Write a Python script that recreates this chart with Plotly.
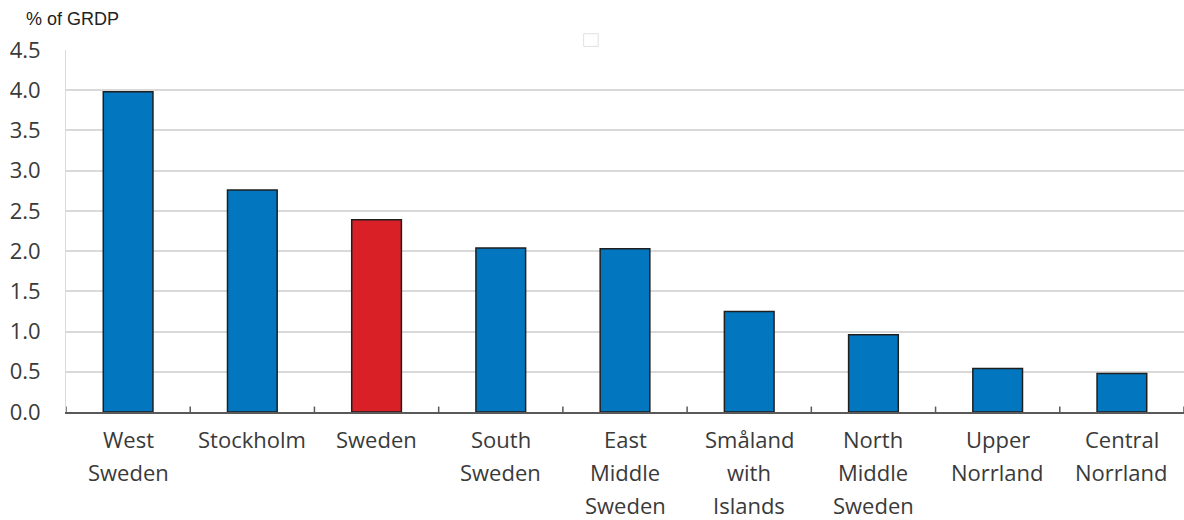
import plotly.graph_objects as go

# Regional values, % of GRDP
regions = ["West<br>Sweden", "Stockholm", "Sweden", "South<br>Sweden", "East<br>Middle<br>Sweden",
           "Småland<br>with<br>Islands", "North<br>Middle<br>Sweden", "Upper<br>Norrland", "Central<br>Norrland"]
values = [3.98, 2.76, 2.39, 2.04, 2.03, 1.25, 0.96, 0.54, 0.48]
colors = ["#0277BF", "#0277BF", "#D92027", "#0277BF", "#0277BF", "#0277BF", "#0277BF", "#0277BF", "#0277BF"]
y_ticks = [0.0, 0.5, 1.0, 1.5, 2.0, 2.5, 3.0, 3.5, 4.0, 4.5]

FONT = "Open Sans, Noto Sans, sans-serif"
TEXT_COLOR = "#3A3A3A"

fig = go.Figure(go.Bar(
    x=list(range(len(regions))),
    y=values,
    marker=dict(color=colors, line=dict(color="#1f1f1f", width=1.5)),
    width=0.4,
))

fig.update_layout(
    width=1184, height=520,
    margin=dict(l=66, r=0, t=50, b=108),
    plot_bgcolor="white", paper_bgcolor="white",
    showlegend=False,
    font=dict(family=FONT, size=22, color=TEXT_COLOR),
    xaxis=dict(
        range=[-0.5, len(regions) - 0.5],
        showticklabels=False,
        showline=True, linecolor="#595959", linewidth=1.5,
        showgrid=False, zeroline=False, ticks="",
    ),
    yaxis=dict(
        range=[0, 4.5],
        tickmode="array",
        tickvals=y_ticks,
        ticktext=[f"{v:.1f}" for v in y_ticks],
        showgrid=True, gridcolor="#D9D9D9", gridwidth=2,
        showline=True, linecolor="#D9D9D9", linewidth=1,
        zeroline=False, ticks="", ticklabelstandoff=20,
        tickfont=dict(family=FONT, size=22, color=TEXT_COLOR),
    ),
)

# category labels, one line at a time for wider line spacing
for i, label in enumerate(regions):
    for k, line in enumerate(label.split("<br>")):
        fig.add_annotation(text=line, x=i, xref="x", yref="paper", y=0,
                           yshift=-(27 + 33 * k), xanchor="center", yanchor="middle",
                           showarrow=False,
                           font=dict(family=FONT, size=22, color=TEXT_COLOR))

# category boundary tick marks on the baseline
for i in range(len(regions) + 1):
    fig.add_shape(type="line", xref="x", yref="paper",
                  x0=i - 0.5, x1=i - 0.5, y0=0, y1=0.015,
                  line=dict(color="#595959", width=1.5))

fig.add_annotation(text="% of GRDP", xref="paper", yref="paper",
                   x=-0.038, y=1.0, yshift=31, xanchor="left", yanchor="middle",
                   showarrow=False,
                   font=dict(family="Liberation Sans Narrow, Liberation Sans, Arial, sans-serif",
                             size=18, color="#222222"))

# small empty box above the plot
fig.add_shape(type="rect", xref="paper", yref="paper",
              x0=0.463, x1=0.476, y0=1.01, y1=1.045,
              line=dict(color="#E0E0E0", width=1), fillcolor="white")

fig.write_html("out.html")
